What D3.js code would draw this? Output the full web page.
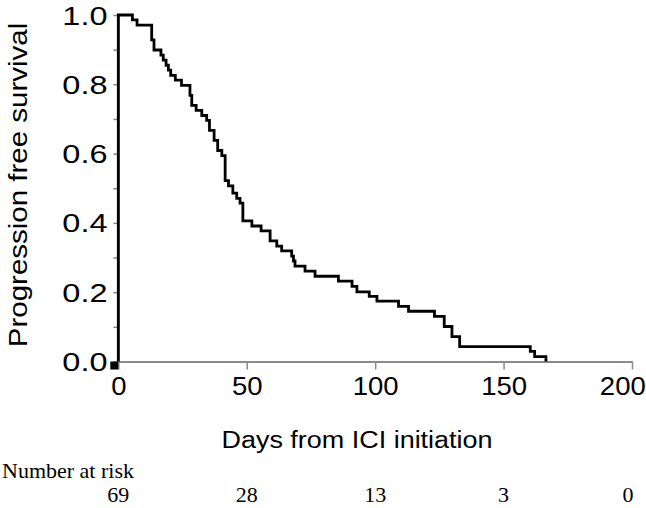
<!DOCTYPE html>
<html>
<head>
<meta charset="utf-8">
<script src="https://cdn.jsdelivr.net/npm/d3@7"></script>
<style>
  html, body { margin: 0; padding: 0; background: #ffffff; }
  svg { display: block; }
</style>
</head>
<body>
<svg id="chart" width="646" height="508"></svg>
<script>
// ---- data ----
const stepTimes = [0, 5.5, 7.3, 13.0, 13.9, 16.6, 17.5, 18.6, 19.5, 20.4, 22.2, 24.6, 27.9, 28.6,
  30.3, 32.5, 34.4, 35.5, 37.3, 38.7, 40.3, 41.6, 42.9, 44.6, 46.1, 47.4, 48.5, 52.0, 55.6,
  59.1, 61.7, 63.6, 67.5, 68.2, 68.8, 72.7, 76.6, 85.7, 91.0, 92.9, 97.7, 100.7, 109.1, 113.0,
  123.1, 126.9, 129.9, 132.9, 160.4, 162.1, 166.5];
const stepSurvival = [1.0, 0.986, 0.971, 0.928, 0.899, 0.884, 0.870, 0.855, 0.841, 0.826, 0.812, 0.797, 0.768, 0.739,
  0.725, 0.710, 0.696, 0.667, 0.638, 0.609, 0.594, 0.522, 0.507, 0.486, 0.471, 0.457, 0.406, 0.391, 0.377,
  0.348, 0.333, 0.319, 0.304, 0.290, 0.275, 0.261, 0.246, 0.232, 0.217, 0.201, 0.188, 0.174, 0.159, 0.145,
  0.130, 0.101, 0.072, 0.043, 0.029, 0.014, 0.0];
const xTicks = [0, 50, 100, 150, 200];
const yTicksMajor = [0, 0.2, 0.4, 0.6, 0.8, 1.0];
const yTicksAll = [0, 0.1, 0.2, 0.3, 0.4, 0.5, 0.6, 0.7, 0.8, 0.9, 1.0];
const riskTimes = [0, 50, 100, 150, 200];
const riskCounts = [69, 28, 13, 3, 0];
const xTitle = "Days from ICI initiation";
const yTitle = "Progression free survival";
const riskTitle = "Number at risk";

// ---- layout ----
const svg = d3.select("#chart");
const x = d3.scaleLinear().domain([0, 200]).range([118.3, 632]);
const y = d3.scaleLinear().domain([0, 1]).range([361.5, 15]);
const sansFont = "'Liberation Sans', Arial, Helvetica, sans-serif";
const serifFont = "'Liberation Serif', 'Times New Roman', serif";
const axisGrey = "#8a8a8a";

// x axis
const gx = svg.append("g").attr("transform", `translate(0,${y(0)})`)
  .call(d3.axisBottom(x).tickValues(xTicks).tickSize(8).tickSizeOuter(0).tickPadding(8));
gx.select(".domain").attr("stroke", axisGrey).attr("stroke-width", 2);
gx.selectAll(".tick line").attr("stroke", axisGrey).attr("stroke-width", 1.5);
gx.selectAll(".tick text")
  .attr("font-family", sansFont).attr("font-size", 25).attr("fill", "#000")
  .attr("transform", "scale(1.1,1)")
  .each(function (d) {
    if (d === 200) d3.select(this).attr("text-anchor", "end").attr("x", 12);
  });

// y axis (minor ticks unlabeled)
const gy = svg.append("g").attr("transform", `translate(${x(0)},0)`)
  .call(d3.axisLeft(y).tickValues(yTicksAll).tickSize(5).tickSizeOuter(0)
    .tickFormat(d => yTicksMajor.some(v => Math.abs(v - d) < 1e-9) ? d3.format(".1f")(d) : ""));
gy.select(".domain").attr("stroke", axisGrey).attr("stroke-width", 2);
gy.selectAll(".tick line").attr("stroke", axisGrey).attr("stroke-width", 1.5);
gy.selectAll(".tick text")
  .attr("font-family", sansFont).attr("font-size", 25).attr("fill", "#000")
  .attr("x", -8.3).attr("dy", "0.36em")
  .attr("transform", "scale(1.3,1)");

// origin marker
svg.append("rect")
  .attr("x", x(0) - 8).attr("y", y(0)).attr("width", 8).attr("height", 8).attr("fill", "#000");

// survival curve
const pts = stepTimes.map((t, i) => [t, stepSurvival[i]]);
const line = d3.line().x(d => x(d[0])).y(d => y(d[1])).curve(d3.curveStepAfter);
svg.append("path")
  .datum([[0, 0]].concat(pts))
  .attr("d", line)
  .attr("fill", "none").attr("stroke", "#000").attr("stroke-width", 2.8)
  .attr("stroke-linejoin", "miter");

// axis titles
svg.append("text")
  .attr("transform", "translate(18,185) rotate(-90) scale(1.18,1)")
  .attr("text-anchor", "middle").attr("dy", "0.35em")
  .attr("font-family", sansFont).attr("font-size", 25).attr("fill", "#000")
  .text(yTitle);

svg.append("text")
  .attr("transform", "translate(357,448) scale(1.1,1)")
  .attr("text-anchor", "middle")
  .attr("font-family", sansFont).attr("font-size", 24.5).attr("fill", "#000")
  .text(xTitle);

// number at risk
svg.append("text")
  .attr("x", 2).attr("y", 478)
  .attr("font-family", serifFont).attr("font-size", 22).attr("fill", "#000")
  .text(riskTitle);

svg.append("g").selectAll("text")
  .data(riskCounts)
  .join("text")
  .attr("x", (d, i) => x(riskTimes[i]) - (i === riskTimes.length - 1 ? 4 : 0))
  .attr("y", 502)
  .attr("text-anchor", "middle")
  .attr("font-family", serifFont).attr("font-size", 22).attr("fill", "#000")
  .text(d => d);
</script>
</body>
</html>
